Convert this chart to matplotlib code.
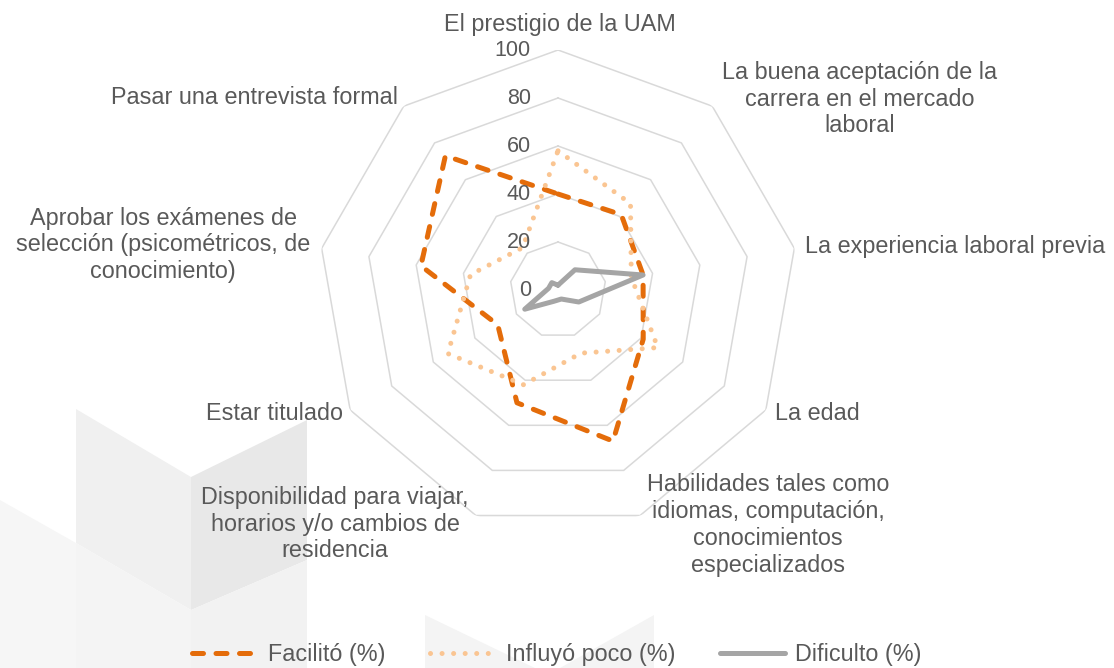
import numpy as np
import matplotlib
matplotlib.use("Agg")
import matplotlib.pyplot as plt
from matplotlib.transforms import offset_copy
from matplotlib.patches import Polygon

plt.rcParams['font.family'] = ['Liberation Sans', 'DejaVu Sans']

# ---------------- data ----------------
categories = [
    "El prestigio de la UAM",
    "La buena aceptación de la\ncarrera en el mercado\nlaboral",
    "La experiencia laboral previa",
    "La edad",
    "Habilidades tales como\nidiomas, computación,\nconocimientos\nespecializados",
    "Disponibilidad para viajar,\nhorarios y/o cambios de\nresidencia",
    "Estar titulado",
    "Aprobar los exámenes de\nselección (psicométricos, de\nconocimiento)",
    "Pasar una entrevista formal",
]
facilito = [40, 41, 36, 41, 67, 50, 29, 58, 73]
influyo_poco = [58, 47, 31, 48, 28, 42, 53, 37, 23]
dificulto = [2, 11, 36, 10, 4, 5, 16, 4, 4]
series_names = ["Facilitó (%)", "Influyó poco (%)", "Dificulto (%)"]
r_ticks = [0, 20, 40, 60, 80, 100]
tick_labels = ["0", "20", "40", "60", "80", "100"]

# ---------------- layout ----------------
W, H = 1114, 668
TXT = '#595959'
fig = plt.figure(figsize=(W / 100, H / 100), dpi=100)

# faint background watermark
bg = fig.add_axes([0, 0, 1, 1], zorder=0)
bg.set_xlim(0, W)
bg.set_ylim(H, 0)
bg.axis('off')
wm = [
    ([(0, 500), (76, 543), (76, 668), (0, 668)], '#f6f6f6'),
    ([(76, 409), (191, 477), (191, 610), (76, 543)], '#f0f0f0'),
    ([(191, 477), (307, 420), (307, 560), (191, 610)], '#e8e8e8'),
    ([(76, 543), (191, 610), (191, 668), (76, 668)], '#f4f4f4'),
    ([(191, 610), (307, 560), (307, 668), (191, 668)], '#f2f2f2'),
    ([(425, 615), (535, 668), (425, 668)], '#f4f4f4'),
    ([(654, 615), (654, 668), (560, 668)], '#f4f4f4'),
]
for pts, col in wm:
    bg.add_patch(Polygon(pts, closed=True, facecolor=col, edgecolor='none'))

cx, cy, R = 558, 290, 240
ax = fig.add_axes([(cx - R) / W, (H - cy - R) / H, 2 * R / W, 2 * R / H],
                  projection='polar', zorder=1)
ax.set_facecolor('none')
ax.set_theta_zero_location('N')
ax.set_theta_direction(-1)
ax.grid(False)
ax.spines['polar'].set_visible(False)
ax.set_xticks([])
ax.set_yticks([])

n = len(categories)
ang = np.arange(n) * 2 * np.pi / n
ang_c = np.append(ang, ang[0])

for r in r_ticks[1:]:
    ax.plot(ang_c, [r] * (n + 1), color='#D9D9D9', lw=1.1, zorder=1)

def closed(v):
    return list(v) + [v[0]]

l1, = ax.plot(ang_c, closed(facilito), color='#E46C0A', lw=3.6,
              linestyle=(0, (2.2, 2.5)), dash_capstyle='round',
              solid_joinstyle='round', zorder=3)
l2, = ax.plot(ang_c, closed(influyo_poco), color='#FAC592', lw=3.6,
              linestyle=(0, (0.01, 2.3)), dash_capstyle='round', zorder=3)
l3, = ax.plot(ang_c, closed(dificulto), color='#A5A5A5', lw=3.6,
              solid_joinstyle='round', solid_capstyle='round', zorder=4)
ax.set_ylim(0, 100)

# radial tick labels
tr = offset_copy(ax.transData, fig=fig, x=-27, y=0, units='dots')
for r, t in zip(r_ticks, tick_labels):
    ax.text(0, r, t, transform=tr, ha='right', va='center',
            fontsize=15.5, color=TXT, clip_on=False)

# category labels (pixel positions of text anchors)
label_pos = [
    (560, 25, 'center'),
    (860, 99, 'center'),
    (805, 246, 'left'),
    (775, 413, 'left'),
    (768, 525, 'center'),
    (335, 524, 'center'),
    (343, 413, 'right'),
    (163, 245, 'center'),
    (398, 98, 'right'),
]
for txt, (x, y, ha) in zip(categories, label_pos):
    fig.text(x / W, 1 - y / H, txt, ha=ha, va='center', multialignment='center',
             fontsize=16.8, color=TXT, linespacing=1.21)

fig.legend([l1, l2, l3], series_names, loc='center',
           bbox_to_anchor=(557 / W, 1 - 655 / H), ncol=3, frameon=False,
           fontsize=16.8, handlelength=2.8, handletextpad=0.45,
           columnspacing=1.9, labelcolor=TXT)

fig.savefig('out.png', dpi=100)
